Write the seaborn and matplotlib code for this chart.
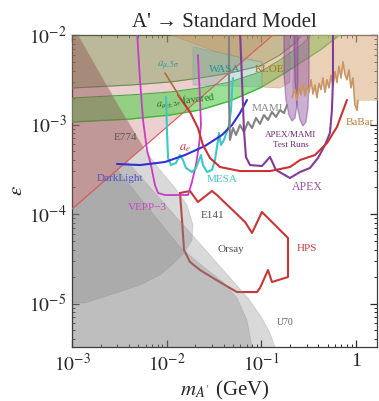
import numpy as np
import matplotlib
matplotlib.use("Agg")
import matplotlib.pyplot as plt
import seaborn as sns
from matplotlib.ticker import FixedLocator, FixedFormatter, LogLocator, NullFormatter

sns.set_theme(style="ticks")
plt.rcParams["font.family"] = ["Liberation Serif", "DejaVu Serif"]
plt.rcParams["mathtext.fontset"] = "stix"

# ---- exclusion regions and reach curves: log10(m_A' / GeV), log10(epsilon) ----
AE_LOG_M = [-3.0, -0.5]
AE_LOG_EPS = [-3.944, -1.654]

AMU5_LOG_M = [-3.2, -3.0, -2.388, -1.965, -1.648, -1.332, -1.015, -0.804, -0.645, -0.571, -0.487]
AMU5_LOG_EPS = [-2.60, -2.592, -2.559, -2.525, -2.480, -2.425, -2.346, -2.223, -2.089, -2.0, -1.888]

AMU2_LOG_M = [-3.2, -3.0, -2.388, -1.965, -1.648, -1.332, -1.015, -0.804, -0.592, -0.381, -0.117]
AMU2_LOG_EPS_HI = [-2.71, -2.704, -2.670, -2.637, -2.592, -2.525, -2.413, -2.279, -2.123, -1.922, -1.721]
AMU2_LOG_EPS_LO = [-2.98, -2.972, -2.939, -2.894, -2.838, -2.737, -2.592, -2.458, -2.313, -2.168, -1.955]

E774_LOG_M = [-3.2, -2.937, -2.757, -2.546, -2.388, -2.250, -3.0, -3.2]
E774_LOG_EPS = [-1.8, -2.0, -2.335, -2.726, -3.006, -3.251, -3.944, -4.127]

U70_LOG_M = [-3.2, -3.2, -3.0, -2.419, -1.965, -1.141, -0.994, -0.909, -0.856, -0.84]
U70_LOG_EPS = [-5.7, -4.127, -3.944, -3.411, -3.955, -4.939, -5.162, -5.330, -5.486, -5.7]

ORSAY_LOG_M = [-3.2, -3.2, -3.0, -2.522, -1.860, -1.596, -1.405, -1.258, -1.152, -1.099, -1.09]
ORSAY_LOG_EPS = [-5.7, -4.127, -3.944, -3.506, -4.369, -4.603, -4.760, -4.939, -5.184, -5.486, -5.7]

E141_LOG_M = [-3.2, -3.0, -2.250, -2.071, -1.912, -1.786, -1.722, -1.733, -1.807, -1.912,
              -2.071, -2.282, -2.599, -2.863, -3.0, -3.2]
E141_LOG_EPS = [-4.127, -3.944, -3.257, -3.508, -3.709, -3.899, -4.123, -4.291, -4.425, -4.536,
                -4.682, -4.793, -4.905, -4.994, -4.994, -4.994]

KLOE_LOG_M = [-2.071, -1.754, -1.469, -1.120, -0.994, -0.994, -0.804, -0.698, -0.698]
KLOE_LOG_EPS = [-1.955, -2.078, -2.190, -2.279, -2.302, -2.581, -2.592, -2.525, -1.944]

WASA_LOG_M = [-1.722, -1.469, -0.994, -0.994, -1.722]
WASA_LOG_EPS = [-2.134, -2.190, -2.302, -2.581, -2.559]

BABAR_LOG_M = [-0.677, -0.645, -0.624, -0.603, -0.582, -0.561, -0.540, -0.518, -0.497, -0.476,
               -0.455, -0.434, -0.413, -0.392, -0.371, -0.350, -0.328, -0.307, -0.286, -0.265,
               -0.244, -0.223, -0.202, -0.181, -0.159, -0.138, -0.117, -0.096, -0.075, -0.054,
               -0.033, -0.012, 0.010, 0.020, 0.30]
BABAR_LOG_EPS = [-2.70, -2.61, -2.73, -2.59, -2.67, -2.55, -2.68, -2.57, -2.64, -2.50,
                 -2.66, -2.56, -2.70, -2.54, -2.61, -2.48, -2.64, -2.50, -2.59, -2.45,
                 -2.57, -2.41, -2.53, -2.35, -2.48, -2.30, -2.44, -2.50, -2.39, -2.59,
                 -2.48, -2.78, -2.84, -2.73, -2.73]

TEST1_LOG_M = [-0.761, -0.761, -0.740, -0.709, -0.677, -0.645, -0.624, -0.614, -0.614]
TEST1_LOG_EPS = [-1.944, -2.447, -2.726, -2.894, -2.961, -2.927, -2.782, -2.503, -1.944]
TEST2_LOG_M = [-0.656, -0.645, -0.624, -0.592, -0.561, -0.529, -0.508, -0.497, -0.497]
TEST2_LOG_EPS = [-1.944, -2.503, -2.782, -2.950, -3.017, -2.972, -2.816, -2.503, -1.944]

APEX_LOG_M = [-1.226, -1.205, -1.184, -1.163, -1.120, -0.994, -0.909, -0.846, -0.698, -0.592,
              -0.487, -0.402, -0.328, -0.276, -0.255, -0.244, -0.244]
APEX_LOG_EPS = [-1.944, -2.503, -3.061, -3.363, -3.453, -3.464, -3.363, -3.508, -3.598, -3.531,
                -3.486, -3.374, -3.229, -3.095, -2.838, -2.503, -1.944]

APEXFULL_LOG_M = [-1.881, -1.754, -1.670, -1.617, -1.543, -1.437, -1.226, -0.909, -0.698, -0.592,
                  -0.434, -0.307, -0.202, -0.096]
APEXFULL_LOG_EPS = [-2.670, -2.860, -3.039, -3.229, -3.374, -3.475, -3.520, -3.520, -3.475, -3.397,
                    -3.341, -3.207, -3.028, -2.726]

HPS_LOG_M = [-1.860, -1.754, -1.670, -1.522, -1.469, -1.173, -1.099, -0.994, -0.719, -0.719,
             -0.888, -0.930, -1.015, -1.046, -1.258, -1.332, -1.511, -1.648, -1.754, -1.817,
             -1.838, -1.860]
HPS_LOG_EPS = [-3.765, -3.743, -3.866, -3.743, -3.788, -4.089, -4.212, -3.978, -4.268, -4.704,
               -4.760, -4.626, -4.827, -4.872, -4.872, -4.827, -4.715, -4.626, -4.536, -4.402,
               -4.067, -3.765]

VEPP_LOG_M = [-2.314, -2.282, -2.250, -2.208, -2.166, -2.124, -2.092, -2.018, -1.775, -1.733,
              -1.691, -1.659, -1.638, -1.648, -1.670]
VEPP_LOG_EPS = [-1.944, -2.503, -2.950, -3.285, -3.453, -3.676, -3.765, -3.788, -3.788, -3.642,
                -3.453, -3.229, -3.006, -2.726, -2.223]

MESA_LOG_M = [-2.007, -1.997, -1.986, -1.955, -1.902, -1.860, -1.828, -1.796, -1.733, -1.691,
              -1.659, -1.638, -1.617, -1.574, -1.522, -1.490, -1.458, -1.448, -1.427, -1.395,
              -1.342, -1.321, -1.310, -1.300]
MESA_LOG_EPS = [-2.693, -3.061, -3.374, -3.453, -3.430, -3.341, -3.397, -3.486, -3.531, -3.486,
                -3.397, -3.341, -3.453, -3.531, -3.508, -3.397, -3.173, -3.095, -3.229, -3.173,
                -3.006, -2.838, -2.615, -2.480]

DARKLIGHT_LOG_M = [-2.525, -2.282, -2.018, -1.807, -1.596, -1.416, -1.310, -1.226, -1.152]
DARKLIGHT_LOG_EPS = [-3.441, -3.453, -3.419, -3.341, -3.240, -3.117, -3.006, -2.872, -2.726]

MAMI_LOG_M = [-1.342, -1.342, -1.332, -1.300, -1.268, -1.226, -1.184, -1.141, -1.099, -1.057,
              -1.015, -0.973, -0.930, -0.888, -0.846, -0.804, -0.761, -0.730]
MAMI_LOG_EPS = [-1.944, -2.726, -3.173, -3.039, -3.117, -3.006, -3.084, -2.972, -3.039, -2.927,
                -2.994, -2.894, -2.950, -2.860, -2.916, -2.838, -2.872, -2.782]

AMU5_POINTER_LOG_M = [-2.018, -1.860]
AMU5_POINTER_LOG_EPS = [-2.425, -2.693]

X_TICKS = [1e-3, 1e-2, 1e-1, 1.0]
X_TICK_LABELS = [r"$10^{-3}$", r"$10^{-2}$", r"$10^{-1}$", "1"]
Y_TICKS = [1e-5, 1e-4, 1e-3, 1e-2]
Y_TICK_LABELS = [r"$10^{-5}$", r"$10^{-4}$", r"$10^{-3}$", r"$10^{-2}$"]


def lin(log_vals):
    return 10.0 ** np.asarray(log_vals, dtype=float)


def rgb(r, g, b):
    return (r / 255, g / 255, b / 255)


fig = plt.figure(figsize=(3.79, 4.01), dpi=100)
ax = fig.add_axes([72 / 379, 1 - 347 / 401, 305 / 379, 312 / 401])
ax.set_xscale("log")
ax.set_yscale("log")
ax.set_xlim(1e-3, 10 ** 0.221)
ax.set_ylim(10 ** -5.486, 1e-2)

TOP = 1e-1

# a_e exclusion (above the straight line)
ae_m, ae_e = lin(AE_LOG_M), lin(AE_LOG_EPS)
ax.fill_between(ae_m, ae_e, TOP, color=rgb(215, 150, 150), alpha=0.45, lw=0, zorder=1)

# HPS reach sits underneath the beam-dump shading
sns.lineplot(x=lin(HPS_LOG_M), y=lin(HPS_LOG_EPS), sort=False, estimator=None,
             color=rgb(200, 55, 55), lw=1.5, ax=ax, zorder=1.5)

# beam dump regions
for lm, le in [(U70_LOG_M, U70_LOG_EPS), (ORSAY_LOG_M, ORSAY_LOG_EPS), (E141_LOG_M, E141_LOG_EPS)]:
    ax.fill(lin(lm), lin(le), facecolor=rgb(130, 130, 130), alpha=0.3,
            edgecolor=rgb(140, 140, 140), lw=0.6, zorder=2)

# muon g-2: 5 sigma exclusion and 2 sigma favoured band
amu5_m, amu5_e = lin(AMU5_LOG_M), lin(AMU5_LOG_EPS)
ax.fill_between(amu5_m, amu5_e, TOP, color=rgb(110, 150, 70), alpha=0.38, lw=0, zorder=3)
ax.plot(amu5_m, amu5_e, color=rgb(110, 140, 80), lw=0.8, zorder=3)

amu2_m = lin(AMU2_LOG_M)
amu2_hi, amu2_lo = lin(AMU2_LOG_EPS_HI), lin(AMU2_LOG_EPS_LO)
ax.fill_between(amu2_m, amu2_lo, amu2_hi, color=rgb(100, 210, 90), alpha=0.65, lw=0, zorder=3.2)
ax.plot(amu2_m, amu2_hi, color=rgb(70, 170, 70), lw=0.8, zorder=3.2)
ax.plot(amu2_m, amu2_lo, color=rgb(60, 185, 60), lw=1.0, zorder=3.2)

# E774
ax.fill(lin(E774_LOG_M), lin(E774_LOG_EPS), facecolor=rgb(140, 85, 85), alpha=0.45,
        edgecolor=rgb(190, 140, 140), lw=0.6, zorder=3.5)

# KLOE, WASA, BaBar
ax.fill(lin(KLOE_LOG_M), lin(KLOE_LOG_EPS), facecolor=rgb(200, 150, 100), alpha=0.45,
        edgecolor=rgb(190, 130, 80), lw=0.6, zorder=3.6)
ax.fill(lin(WASA_LOG_M), lin(WASA_LOG_EPS), facecolor=rgb(120, 170, 160), alpha=0.35,
        edgecolor=rgb(100, 150, 140), lw=0.6, zorder=3.7)
bb_m, bb_e = lin(BABAR_LOG_M), lin(BABAR_LOG_EPS)
ax.fill_between(bb_m, bb_e, TOP, color=rgb(215, 170, 125), alpha=0.55, lw=0, zorder=3.6)
sns.lineplot(x=bb_m[:-1], y=bb_e[:-1], sort=False, estimator=None,
             color=rgb(200, 150, 100), lw=1.2, ax=ax, zorder=5)

# APEX / MAMI test runs
for lm, le in [(TEST1_LOG_M, TEST1_LOG_EPS), (TEST2_LOG_M, TEST2_LOG_EPS)]:
    ax.fill(lin(lm), lin(le), facecolor=rgb(140, 80, 160), alpha=0.45,
            edgecolor=rgb(120, 60, 140), lw=1.0, zorder=4)

# a_e boundary line
ax.plot(ae_m, ae_e, color=rgb(225, 90, 90), lw=0.8, zorder=5)

# projected reach curves
curves = [
    (VEPP_LOG_M, VEPP_LOG_EPS, rgb(200, 60, 200), 1.3),
    (MESA_LOG_M, MESA_LOG_EPS, rgb(60, 200, 200), 1.5),
    (DARKLIGHT_LOG_M, DARKLIGHT_LOG_EPS, rgb(50, 50, 210), 1.5),
    (MAMI_LOG_M, MAMI_LOG_EPS, rgb(130, 130, 130), 1.5),
    (APEX_LOG_M, APEX_LOG_EPS, rgb(130, 60, 150), 1.5),
    (APEXFULL_LOG_M, APEXFULL_LOG_EPS, rgb(200, 50, 50), 1.5),
    (AMU5_POINTER_LOG_M, AMU5_POINTER_LOG_EPS, rgb(170, 110, 60), 1.2),
]
for lm, le, c, w in curves:
    sns.lineplot(x=lin(lm), y=lin(le), sort=False, estimator=None, color=c, lw=w, ax=ax, zorder=5)

# labels
labels = [
    ("E774", -2.440, -3.140, rgb(90, 90, 90), 8, 0),
    ("DarkLight", -2.493, -3.598, rgb(80, 80, 200), 8, 0),
    ("VEPP\u22123", -2.208, -3.922, rgb(200, 70, 200), 8, 0),
    ("E141", -1.511, -4.022, rgb(80, 80, 80), 8, 0),
    ("Orsay", -1.321, -4.402, rgb(80, 80, 80), 8, 0),
    ("HPS", -0.519, -4.391, rgb(200, 60, 60), 8, 0),
    ("MESA", -1.416, -3.609, rgb(70, 200, 200), 8, 0),
    ("APEX", -0.519, -3.698, rgb(150, 80, 160), 8.5, 0),
    ("APEX/MAMI", -0.687, -3.117, rgb(110, 40, 120), 6.5, 0),
    ("Test Runs", -0.687, -3.229, rgb(110, 40, 120), 6.5, 0),
    (r"$a_e$", -1.807, -3.263, rgb(200, 50, 50), 9, 0),
    ("MAMI", -0.941, -2.816, rgb(140, 140, 140), 8, 0),
    ("BaBar", 0.041, -2.983, rgb(190, 130, 60), 8, 0),
    ("KLOE", -0.909, -2.380, rgb(170, 110, 30), 8, 0),
    ("WASA", -1.384, -2.380, rgb(30, 150, 150), 8, 0),
    (r"$a_{\mu,5\sigma}$", -1.986, -2.346, rgb(40, 160, 160), 8, 0),
    (r"$a_{\mu\pm2\sigma}$ favored", -1.796, -2.737, rgb(40, 110, 40), 7.5, 7),
    ("U70", -0.751, -5.207, rgb(100, 100, 100), 7, 0),
]
for txt, lx, ly, c, fs, rot in labels:
    ax.text(10 ** lx, 10 ** ly, txt, color=c, fontsize=fs, rotation=rot,
            ha="center", va="center", zorder=6)

# axes styling
ax.xaxis.set_major_locator(FixedLocator(X_TICKS))
ax.xaxis.set_major_formatter(FixedFormatter(X_TICK_LABELS))
ax.yaxis.set_major_locator(FixedLocator(Y_TICKS))
ax.yaxis.set_major_formatter(FixedFormatter(Y_TICK_LABELS))
ax.xaxis.set_minor_locator(LogLocator(base=10, subs=np.arange(2, 10)))
ax.yaxis.set_minor_locator(LogLocator(base=10, subs=np.arange(2, 10)))
ax.xaxis.set_minor_formatter(NullFormatter())
ax.yaxis.set_minor_formatter(NullFormatter())
ax.tick_params(which="both", direction="in", top=True, right=True, color=rgb(40, 40, 40))
ax.tick_params(which="major", length=5, width=0.9, labelsize=14, pad=4)
ax.tick_params(which="minor", length=2.5, width=0.7)
for s in ax.spines.values():
    s.set_color(rgb(60, 60, 60))
    s.set_linewidth(0.9)

ax.set_title("A' \u2192 Standard Model", fontsize=15, pad=6)
ax.set_xlabel(r"$m_{A'}$ (GeV)", fontsize=15, labelpad=3)
ax.set_ylabel(r"$\epsilon$", fontsize=15, labelpad=1)

fig.savefig("out.png", dpi=100)
